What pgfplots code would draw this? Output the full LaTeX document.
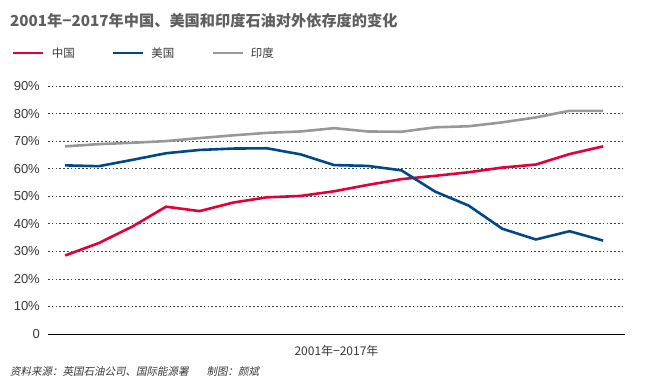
\documentclass[border=0pt]{standalone}
\usepackage{pgfplots}
\pgfplotsset{compat=1.18}
\usepackage{fontspec}
\setmainfont{Noto Sans CJK SC}
\newfontfamily\cjkslant{Noto Sans CJK SC}[FakeSlant=0.2]
\newfontfamily\arial{Liberation Sans}
\definecolor{cnred}{RGB}{226,0,54}
\definecolor{usblue}{RGB}{0,72,136}
\definecolor{ingray}{RGB}{152,152,152}
\definecolor{titlegray}{RGB}{95,95,95}
\definecolor{txt}{RGB}{55,55,55}
\begin{document}
\begin{tikzpicture}[x=1pt,y=1pt]
\path[use as bounding box] (0,0) rectangle (662,-390);
\node[anchor=west, inner sep=0pt, text=titlegray, font={\fontsize{15.2}{16}\selectfont\bfseries}] at (10,-21) {2001年−2017年中国、美国和印度石油对外依存度的变化};
\begin{axis}[
  at={(48pt,-334pt)}, anchor=south west,
  scale only axis, width=577pt, height=248pt,
  xmin=2000.49, xmax=2017.65,
  ymin=0, ymax=90,
  axis x line=bottom, axis y line=left,
  x axis line style={-, black, line width=0.8pt},
  y axis line style={draw=none},
  xtick=\empty,
  ytick={0,10,20,30,40,50,60,70,80,90},
  yticklabels={0,10\%,20\%,30\%,40\%,50\%,60\%,70\%,80\%,90\%},
  yticklabel style={font={\arial\fontsize{13}{13}\selectfont}, text=txt, anchor=east, inner sep=0pt, xshift=-8pt},
  major tick length=0pt,
  ymajorgrids,
  grid style={black!75, line width=0.7pt, dash pattern=on 1.6pt off 2.2pt},
  clip=false,
  xlabel={2001年−2017年},
  xlabel style={font={\fontsize{12}{12}\selectfont}, text=txt, inner sep=0pt, at={(axis description cs:0.5,0)}, anchor=north, yshift=-11pt},
  legend columns=3,
  legend style={at={(axis description cs:0,1)}, anchor=west, xshift=-39pt, yshift=33pt, draw=none, fill=none,
    font={\fontsize{11.5}{12}\selectfont}, text=txt,
    nodes={inner sep=0pt},
    /tikz/every odd column/.append style={column sep=7pt},
    /tikz/every even column/.append style={column sep=37pt}},
  legend image code/.code={\draw[#1, line width=2.6pt] (0pt,0pt) -- (30pt,0pt);},
]
\addplot[cnred, line width=2.6pt] coordinates {
(2001,28.5) (2002,33.0) (2003,39.0) (2004,46.2) (2005,44.6) (2006,47.7) (2007,49.6) (2008,50.1)
(2009,51.8) (2010,54.1) (2011,56.2) (2012,57.4) (2013,58.7) (2014,60.4) (2015,61.5) (2016,65.3) (2017,68.1)};
\addlegendentry{中国}
\addplot[usblue, line width=2.6pt] coordinates {
(2001,61.2) (2002,60.9) (2003,63.2) (2004,65.6) (2005,66.8) (2006,67.3) (2007,67.4) (2008,65.2)
(2009,61.3) (2010,61.0) (2011,59.4) (2012,51.7) (2013,46.6) (2014,38.2) (2015,34.3) (2016,37.3) (2017,33.9)};
\addlegendentry{美国}
\addplot[ingray, line width=2.6pt] coordinates {
(2001,68.1) (2002,68.9) (2003,69.4) (2004,70.0) (2005,71.1) (2006,72.1) (2007,73.0) (2008,73.5)
(2009,74.7) (2010,73.5) (2011,73.4) (2012,75.0) (2013,75.4) (2014,76.8) (2015,78.6) (2016,81.0) (2017,81.0)};
\addlegendentry{印度}
\end{axis}
\node[anchor=west, inner sep=0pt, text=txt, font={\cjkslant\fontsize{10.5}{11}\selectfont}] at (10,-372) {资料来源：英国石油公司、国际能源署\hspace{18pt}制图：颜斌};
\end{tikzpicture}
\end{document}
